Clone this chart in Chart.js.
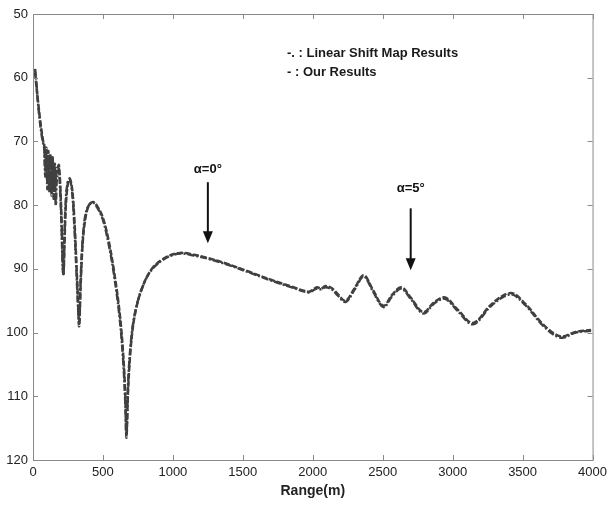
<!DOCTYPE html>
<html>
<head>
<meta charset="utf-8">
<script src="https://cdn.jsdelivr.net/npm/chart.js@4"></script>
<style>
  html, body { margin: 0; padding: 0; background: #fff; }
  #wrap { width: 612px; height: 505px; }
</style>
</head>
<body>
<div id="wrap"><canvas id="loss-chart" width="612" height="505"></canvas></div>
<script>
// range in metres, shared by both curves
const rangeM = [15, 25, 35, 50, 62, 73, 80, 88, 95, 103, 110, 118, 125, 133, 140, 148, 155, 163, 170, 178,
  185, 195, 205, 212, 218, 225, 235, 250, 263, 280, 295, 310, 322, 330, 340, 355, 375, 400, 430, 460,
  500, 540, 580, 620, 645, 660, 668, 680, 700, 730, 780, 850, 950, 1050, 1150, 1250, 1400, 1550, 1700, 1850,
  1970, 2000, 2030, 2060, 2090, 2135, 2180, 2235, 2300, 2365, 2430, 2505, 2570, 2633, 2700, 2790, 2870, 2946, 3040, 3146,
  3280, 3416, 3520, 3650, 3772, 3880, 3990];

// "- : Our Results"
const ourResults = [59.2, 61.5, 63.5, 66.5, 68.5, 70, 70.5, 74.5, 71, 76.5, 71.5, 77, 72, 77.5, 72.5, 77, 73.5, 76, 74.5, 74,
  73.7, 77, 83, 88.5, 90.8, 86, 80, 76.5, 75.8, 77.5, 82, 89, 95, 99, 93, 86, 82, 80, 79.5, 80.2,
  82, 85.5, 90.5, 97, 103.5, 110, 116.5, 109, 102, 97, 93, 90, 88.2, 87.5, 87.8, 88.3, 89.3, 90.5, 91.7, 92.8,
  93.6, 93.3, 92.9, 93.1, 92.7, 93.0, 94.0, 95.0, 93.0, 91.0, 93.3, 95.8, 94.0, 92.9, 94.5, 96.8, 95.2, 94.5, 96.5, 98.5,
  95.5, 93.8, 95.5, 98.8, 100.6, 99.9, 99.6];

// "-. : Linear Shift Map Results"
const linearShift = [58.6, 61, 63.8, 67, 69, 70.3, 71, 75.5, 71.5, 77.5, 72, 78, 72.5, 78.5, 73, 79, 74, 80, 76, 75,
  74.3, 78, 84, 89.5, 91, 85, 79, 76.2, 76, 78, 83, 90, 96, 98.5, 92, 85.5, 81.5, 80, 79.6, 80.4,
  82.3, 86, 91, 97.8, 104.5, 111, 116, 108, 101.5, 96.8, 93, 90.1, 88.3, 87.6, 87.9, 88.4, 89.4, 90.6, 91.8, 92.9,
  93.7, 93.4, 93.1, 93.2, 92.9, 93.2, 94.2, 95.2, 93.2, 91.2, 93.5, 96.0, 94.2, 93.1, 94.7, 97.0, 95.4, 94.7, 96.7, 98.7,
  95.7, 94.0, 95.7, 99.0, 100.8, 100.0, 99.7];

const xTicks = [0, 500, 1000, 1500, 2000, 2500, 3000, 3500, 4000];
const yTicks = [50, 60, 70, 80, 90, 100, 110, 120];

// arrows for the two angle annotations
const arrowLabels = ['\u03b1=0\u00b0', '\u03b1=5\u00b0'];
const arrowX = [1250, 2700];
const arrowTop = [76.4, 80.5];
const arrowTip = [86.0, 90.2];
const labelY = [74.4, 77.3];

const legendLines = ['-. : Linear Shift Map Results', '- : Our Results'];

const lineColor = '#404040';
const axisColor = '#8a8a8a';
const sansFont = '"Liberation Sans", Arial, sans-serif';

function toPoints(ys) {
  return rangeM.map((x, i) => ({ x: x, y: ys[i] }));
}

const framePlugin = {
  id: 'frame',
  afterDraw(chart) {
    const ctx = chart.ctx;
    const { left, right, top, bottom } = chart.chartArea;
    const xs = chart.scales.x;
    const ys = chart.scales.y;
    ctx.save();

    // box + inward ticks
    ctx.strokeStyle = axisColor;
    ctx.lineWidth = 1;
    ctx.strokeRect(left + 0.5, top + 0.5, right - left, bottom - top);
    ctx.beginPath();
    xTicks.forEach(v => {
      const px = Math.round(xs.getPixelForValue(v)) + 0.5;
      ctx.moveTo(px, bottom); ctx.lineTo(px, bottom - 5);
      ctx.moveTo(px, top); ctx.lineTo(px, top + 5);
    });
    yTicks.forEach(v => {
      const py = Math.round(ys.getPixelForValue(v)) + 0.5;
      ctx.moveTo(left, py); ctx.lineTo(left + 5, py);
      ctx.moveTo(right, py); ctx.lineTo(right - 5, py);
    });
    ctx.stroke();

    // arrows
    ctx.strokeStyle = '#111';
    ctx.fillStyle = '#111';
    ctx.lineWidth = 2;
    arrowX.forEach((v, i) => {
      const px = xs.getPixelForValue(v);
      const y0 = ys.getPixelForValue(arrowTop[i]);
      const y1 = ys.getPixelForValue(arrowTip[i]);
      ctx.beginPath();
      ctx.moveTo(px, y0); ctx.lineTo(px, y1 - 10);
      ctx.stroke();
      ctx.beginPath();
      ctx.moveTo(px - 5, y1 - 12); ctx.lineTo(px + 5, y1 - 12); ctx.lineTo(px, y1);
      ctx.closePath();
      ctx.fill();

      ctx.font = 'bold 13px ' + sansFont;
      ctx.textAlign = 'center';
      ctx.textBaseline = 'middle';
      ctx.fillText(arrowLabels[i], px, ys.getPixelForValue(labelY[i]));
    });

    // legend text
    ctx.fillStyle = '#1a1a1a';
    ctx.font = 'bold 13px ' + sansFont;
    ctx.textAlign = 'left';
    ctx.textBaseline = 'middle';
    ctx.fillText(legendLines[0], left + 254, top + 39);
    ctx.fillText(legendLines[1], left + 254, top + 58);
    ctx.restore();
  }
};

const ctx = document.getElementById('loss-chart').getContext('2d');
new Chart(ctx, {
  type: 'line',
  data: {
    datasets: [{
      label: 'Linear Shift Map Results',
      data: toPoints(linearShift),
      borderColor: lineColor,
      borderWidth: 2.5,
      borderDash: [7, 2, 2, 2],
      pointRadius: 0,
      tension: 0.35
    }, {
      label: 'Our Results',
      data: toPoints(ourResults),
      borderColor: lineColor,
      borderWidth: 2.5,
      borderDash: [6, 2],
      pointRadius: 0,
      tension: 0.35
    }]
  },
  options: {
    responsive: false,
    animation: false,
    events: [],
    layout: { padding: { top: 14, right: 17, left: 0, bottom: 4 } },
    plugins: { legend: { display: false }, tooltip: { enabled: false } },
    scales: {
      x: {
        type: 'linear',
        min: 0,
        max: 4000,
        afterBuildTicks: scale => { scale.ticks = xTicks.map(v => ({ value: v })); },
        afterFit: scale => { scale.height = 41; },
        grid: { display: false, drawTicks: false },
        border: { display: false },
        ticks: {
          padding: 5, color: '#222', font: { family: sansFont, size: 13 }, maxRotation: 0,
          callback: v => String(v)
        },
        title: {
          display: true,
          text: 'Range(m)',
          color: '#222',
          font: { family: sansFont, size: 14, weight: 'bold' },
          padding: { top: 0, bottom: 1 }
        }
      },
      y: {
        type: 'linear',
        min: 50,
        max: 120,
        reverse: true,
        afterBuildTicks: scale => { scale.ticks = yTicks.map(v => ({ value: v })); },
        afterFit: scale => { scale.width = 33; },
        grid: { display: false, drawTicks: false },
        border: { display: false },
        ticks: { padding: 5, color: '#222', font: { family: sansFont, size: 13 }, callback: v => String(v) }
      }
    }
  },
  plugins: [framePlugin]
});
</script>
</body>
</html>
